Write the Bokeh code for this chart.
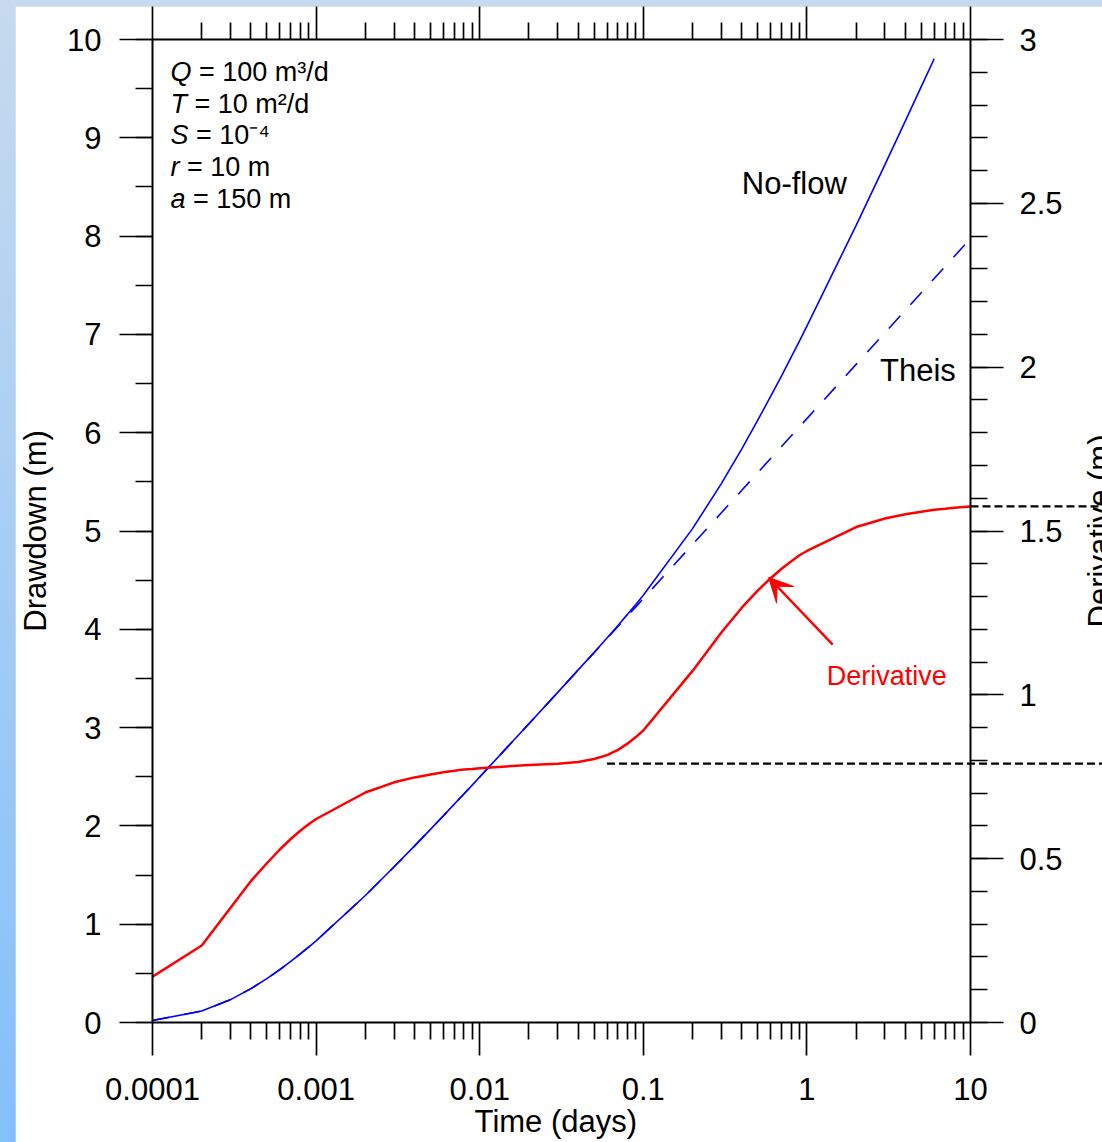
import math
from bokeh.plotting import figure
from bokeh.core.properties import value
from bokeh.models import (Range1d, LinearAxis, LogAxis, Label, Arrow, VeeHead, FixedTicker,
                          SingleIntervalTicker, CustomJSTickFormatter, GlobalInlineStyleSheet)
from bokeh.embed import file_html
from bokeh.resources import INLINE

# ---------------- data ----------------
time_days = [1e-4, 2e-4, 3e-4, 4e-4, 5e-4, 6e-4, 7e-4, 8e-4, 9e-4,
             1e-3, 2e-3, 3e-3, 4e-3, 5e-3, 6e-3, 7e-3, 8e-3, 9e-3,
             0.01, 0.02, 0.03, 0.04, 0.05, 0.06, 0.07, 0.08, 0.09,
             0.1, 0.2, 0.3, 0.4, 0.5, 0.6, 0.7, 0.8, 0.9,
             1.0, 2.0, 3.0, 4.0, 5.0, 6.0, 7.0, 8.0, 9.0, 10.0]

theis_drawdown = [0.020, 0.117, 0.233, 0.345, 0.446, 0.537, 0.621, 0.699, 0.767,
                  0.831, 1.292, 1.584, 1.797, 1.965, 2.104, 2.222, 2.325, 2.415,
                  2.497, 3.039, 3.358, 3.586, 3.762, 3.907, 4.029, 4.135, 4.228,
                  4.312, 4.863, 5.185, 5.414, 5.592, 5.737, 5.859, 5.966, 6.059,
                  6.143, 6.695, 7.017, 7.246, 7.424, 7.569, 7.692, 7.798, 7.892, 7.976]

noflow_time = time_days[:42]
noflow_drawdown = [0.020, 0.117, 0.233, 0.345, 0.446, 0.537, 0.621, 0.699, 0.767,
                   0.831, 1.292, 1.584, 1.797, 1.965, 2.104, 2.222, 2.325, 2.415,
                   2.497, 3.039, 3.358, 3.587, 3.764, 3.912, 4.039, 4.152, 4.253,
                   4.346, 5.024, 5.482, 5.836, 6.125, 6.369, 6.579, 6.766, 6.932,
                   7.084, 8.110, 8.728, 9.172, 9.520, 9.804]

derivative = [0.140, 0.235, 0.350, 0.432, 0.486, 0.528, 0.560, 0.585, 0.605,
              0.621, 0.702, 0.733, 0.748, 0.757, 0.764, 0.768, 0.772, 0.774,
              0.776, 0.786, 0.790, 0.795, 0.804, 0.816, 0.832, 0.851, 0.871,
              0.891, 1.073, 1.190, 1.266, 1.318, 1.356, 1.385, 1.407, 1.426,
              1.439, 1.512, 1.538, 1.551, 1.559, 1.565, 1.568, 1.571, 1.573, 1.575]

plateau_start = [0.06, 10.0]
plateau_level = [0.79, 1.575]

x_major_ticks = [1e-4, 1e-3, 1e-2, 1e-1, 1.0, 10.0]
x_minor_ticks = [m * 10.0 ** k for k in range(-4, 1) for m in range(2, 10)]

param_symbols = ["Q", "T", "S", "r", "a"]
param_texts = ["= 100 m\u00b3/d", "= 10 m\u00b2/d", "= 10\u207b\u2074", "= 10 m", "= 150 m"]

# ---------------- figure ----------------
FONT = "Liberation Sans"
W, H = 1087, 1136
X_EDGE = 64.0   # time value at the right edge of the page (dashed lines run to it)

p = figure(width=W, height=H, x_axis_type="log",
           x_range=Range1d(1e-4, 10), y_range=Range1d(0, 10),
           output_backend="svg", toolbar_location=None,
           min_border_left=136, min_border_top=33, min_border_bottom=120, min_border_right=132,
           background_fill_color="white", border_fill_color="white")
p.outline_line_color = None
p.extra_y_ranges = {"deriv": Range1d(0, 3)}
p.grid.visible = False

p.stylesheets = [GlobalInlineStyleSheet(css=(
    "html, body { overflow: hidden; }"
    "body { margin: 6px 0 0 15px !important; padding: 0 !important;"
    " background: linear-gradient(180deg, #c7daee 0%, #84bffa 100%) !important; }"))]

num_fmt = "return Number(tick.toPrecision(6)).toString();"


def style_axis(ax):
    ax.axis_line_color = "black"
    ax.axis_line_width = 2
    ax.major_tick_line_color = "black"
    ax.major_tick_line_width = 1.7
    ax.major_tick_out = 33
    ax.major_tick_in = 0
    ax.minor_tick_line_color = "black"
    ax.minor_tick_line_width = 1.7
    ax.minor_tick_out = 17
    ax.minor_tick_in = 0
    ax.major_label_text_font = FONT
    ax.major_label_text_font_size = "31px"
    ax.major_label_text_color = "black"
    ax.major_label_standoff = 16
    ax.axis_label_text_font = FONT
    ax.axis_label_text_font_size = "31px"
    ax.axis_label_text_font_style = "normal"
    ax.axis_label_text_color = "black"


# bottom axis
xb = p.xaxis[0]
xb.ticker = FixedTicker(ticks=x_major_ticks, minor_ticks=x_minor_ticks)
xb.formatter = CustomJSTickFormatter(code=num_fmt)
style_axis(xb)
xb.major_label_standoff = 22

# left axis
yl = p.yaxis[0]
yl.ticker = SingleIntervalTicker(interval=1, num_minor_ticks=2)
style_axis(yl)
yl.major_label_standoff = 18
yl.axis_label = "Drawdown (m)"
yl.axis_label_standoff = 11

# top axis (ticks only)
xt = LogAxis(ticker=FixedTicker(ticks=x_major_ticks, minor_ticks=x_minor_ticks),
             formatter=CustomJSTickFormatter(code="return '';"))
style_axis(xt)
xt.major_label_text_font_size = "0px"
xt.major_label_standoff = 0
p.add_layout(xt, "above")

# right axis for the derivative
yr = LinearAxis(y_range_name="deriv",
                ticker=SingleIntervalTicker(interval=0.5, num_minor_ticks=5),
                formatter=CustomJSTickFormatter(code=num_fmt))
style_axis(yr)
p.add_layout(yr, "right")

# ---------------- curves ----------------
p.line(time_days, theis_drawdown, line_color="#0000ff", line_width=1.6, line_dash="17 15")
p.line(noflow_time, noflow_drawdown, line_color="#0000ff", line_width=1.6)
p.line(time_days, derivative, line_color="#ff0000", line_width=2.5, y_range_name="deriv")
p.segment(x0=plateau_start, x1=[X_EDGE] * len(plateau_start),
          y0=plateau_level, y1=plateau_level, y_range_name="deriv",
          line_color="black", line_width=2.2, line_dash="8 4", level="overlay")

# ---------------- annotations ----------------
p.add_layout(Label(x=0.400, y=8.535, text="No-flow", text_font=FONT, text_font_size="31px",
                   text_color="black", text_baseline="alphabetic"))
p.add_layout(Label(x=2.80, y=6.633, text="Theis", text_font=FONT, text_font_size="31px",
                   text_color="black", text_baseline="alphabetic"))
p.add_layout(Label(x=1.321, y=3.527, text="Derivative", text_font=FONT, text_font_size="27px",
                   text_color="#ff0000", text_baseline="alphabetic"))
p.add_layout(Arrow(end=VeeHead(size=24, fill_color="#ff0000", line_color="#ff0000", line_width=1),
                   x_start=1.437, y_start=3.845, x_end=0.584, y_end=4.527,
                   line_color="#ff0000", line_width=2.5))

# axis titles that sit outside the data frame (drawn unclipped)
p.text(x=[0.0292], y=[-1.007], text=["Time (days)"], level="overlay",
       text_font=value(FONT), text_font_size=value("31px"), text_color="black",
       text_align="center", text_baseline="alphabetic")
p.text(x=[61.3], y=[5.0], text=["Derivative (m)"], angle=math.pi / 2, level="overlay",
       text_font=value(FONT), text_font_size=value("31px"), text_color="black",
       text_align="center", text_baseline="alphabetic")

sym_w = {"Q": 0.778, "T": 0.611, "S": 0.667, "r": 0.333, "a": 0.556}
SPACE_W = 0.278
PFS = 27
for i, (sym, txt) in enumerate(zip(param_symbols, param_texts)):
    yy = 9.669 - 0.3225 * i
    p.add_layout(Label(x=1.288e-4, y=yy, text=sym, text_font=FONT, text_font_size=f"{PFS}px",
                       text_font_style="italic", text_color="black", text_baseline="alphabetic"))
    p.add_layout(Label(x=1.288e-4, y=yy, x_offset=(sym_w[sym] + SPACE_W) * PFS, text=txt,
                       text_font=FONT, text_font_size=f"{PFS}px", text_color="black",
                       text_baseline="alphabetic"))

open("out.html", "w").write(file_html(p, INLINE))
